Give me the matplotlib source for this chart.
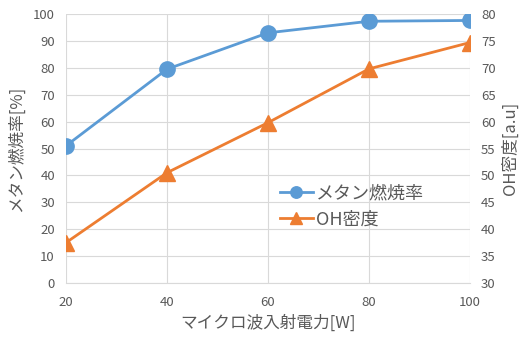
import matplotlib.pyplot as plt

plt.rcParams['font.family'] = ['Noto Sans CJK JP', 'DejaVu Sans']

# data
power = [20, 40, 60, 80, 100]
methane = [51, 79.5, 93, 97.3, 97.6]
oh = [37.5, 50.5, 59.8, 69.8, 74.7]

blue = '#5b9bd5'
orange = '#ed7d31'
grey = '#595959'

fig = plt.figure(figsize=(5.19, 3.38), dpi=100)
ax = fig.add_axes([66/519, 55/338, (470-66)/519, (283-14)/338])
ax2 = ax.twinx()

l1, = ax.plot(power, methane, color=blue, lw=2, marker='o', markersize=11, label='メタン燃焼率', zorder=3)
l2, = ax2.plot(power, oh, color=orange, lw=2, marker='^', markersize=11, label='OH密度', zorder=3)

ax.set_xlim(20, 100)
ax.set_ylim(0, 100)
ax2.set_ylim(30, 80)
ax.set_xticks(power)
ax.set_yticks(range(0, 101, 10))
ax2.set_yticks(range(30, 81, 5))
ax.grid(True, color='#d9d9d9', lw=0.8)
ax.set_axisbelow(True)

for a in (ax, ax2):
    for s in a.spines.values():
        s.set_visible(False)
    a.tick_params(length=0, labelsize=9.5, colors=grey, pad=8)
ax.spines['bottom'].set_visible(True)
ax.spines['bottom'].set_color('#d9d9d9')
ax.tick_params(axis='x', pad=9)

ax.set_xlabel('マイクロ波入射電力[W]', fontsize=12, color=grey, labelpad=4)
ax.set_ylabel('メタン燃焼率[%]', fontsize=12, color=grey, labelpad=6)
ax2.set_ylabel('OH密度[a.u]', fontsize=12, color=grey, rotation=90, labelpad=4)

ax2.legend(handles=[l1, l2], loc='center left', bbox_to_anchor=(0.49, 0.285), frameon=False,
           fontsize=13, labelcolor=grey, handlelength=1.8, handletextpad=0.2,
           labelspacing=0.45, markerscale=0.75)

fig.savefig('out.png', dpi=100)
